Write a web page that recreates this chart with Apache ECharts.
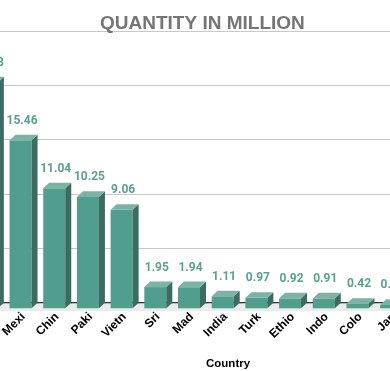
<!DOCTYPE html>
<html><head><meta charset="utf-8">
<script src="https://cdn.jsdelivr.net/npm/echarts@6/dist/echarts.min.js"></script>
<style>html,body{margin:0;padding:0;background:#fff;overflow:hidden;width:390px;height:371px;position:relative}#c{position:absolute;left:-30px;top:0;width:438px;height:371px}</style>
</head><body><div id="c"></div>
<script>
var categories = ['USA', 'Mexi', 'Chin', 'Paki', 'Vietn', 'Sri', 'Mad', 'India', 'Turk', 'Ethio', 'Indo', 'Colo', 'Jap'];
var values = [20.78, 15.46, 11.04, 10.25, 9.06, 1.95, 1.94, 1.11, 0.97, 0.92, 0.91, 0.42, 0.31];
var yTicks = [0, 5, 10, 15, 20, 25];

var FRONT = '#529e8e', SIDE = '#3b6b61', TOP = '#7bb3a7', LABEL = '#58a291';
var DX = 6, DY = 5.6, HALF = 11;

function renderBar(params, api) {
  var i = api.value(0), v = api.value(1);
  var pTop = api.coord([i, v]);
  var pBase = api.coord([i, 0]);
  var cx = pTop[0], yv = pTop[1], y0 = pBase[1];
  var band = api.size([1, 0])[0];
  var children = [];
  children.push({type: 'rect', shape: {x: cx - band / 2, y: y0, width: band + 1, height: 8.5},
    style: {fill: '#ebebeb'}, z2: 0});
  children.push({type: 'line', shape: {x1: cx - band / 2, y1: y0, x2: cx + band / 2 + 1, y2: y0},
    style: {stroke: '#333', lineWidth: 1.2}, z2: 1});
  children.push({type: 'rect', shape: {x: cx - HALF, y: yv + DY, width: 2 * HALF, height: y0 - yv},
    style: {fill: FRONT}, z2: 3});
  children.push({type: 'polygon', shape: {points: [[cx + HALF, yv + DY], [cx + HALF + DX, yv], [cx + HALF + DX, y0], [cx + HALF, y0 + DY]]},
    style: {fill: SIDE}, z2: 3});
  children.push({type: 'polygon', shape: {points: [[cx - HALF, yv + DY], [cx - HALF + DX, yv], [cx + HALF + DX, yv], [cx + HALF, yv + DY]]},
    style: {fill: TOP}, z2: 3});
  children.push({type: 'text', x: cx + 1.5, y: yv - 14, style: {text: v.toFixed(2), fill: LABEL,
    font: 'bold 12px Roboto', align: 'center', verticalAlign: 'middle'}, z2: 4});
  return {type: 'group', children: children};
}

var chart = echarts.init(document.getElementById('c'));
chart.setOption({
  animation: false,
  title: [
    {text: 'QUANTITY IN MILLION', left: 125, top: 9,
     textStyle: {fontFamily: 'Liberation Sans', fontWeight: 'bold', fontSize: 19, color: '#757575'}},
    {text: 'Country', left: 231, top: 353,
     textStyle: {fontFamily: 'Liberation Sans', fontWeight: 'bold', fontSize: 11.5, color: '#000'}}
  ],
  grid: {left: 0, right: 0, top: 31, bottom: 68.3, containLabel: false, outerBoundsMode: 'none'},
  xAxis: {type: 'category', data: categories, boundaryGap: true,
    axisLine: {show: false}, axisTick: {show: false},
    axisLabel: {rotate: 45, interval: 0, margin: 15, color: '#000', fontWeight: 'bold',
      fontFamily: 'Liberation Sans', fontSize: 12, padding: [0, -4, 0, 0]}},
  yAxis: {type: 'value', min: yTicks[0], max: yTicks[yTicks.length - 1], interval: yTicks[1] - yTicks[0],
    axisLabel: {show: false}, axisLine: {show: false}, axisTick: {show: false},
    splitLine: {lineStyle: {color: '#c8c8c8', width: 1}}},
  series: [{type: 'custom', renderItem: renderBar,
    data: values.map(function (v, i) { return [i, v]; }), encode: {x: 0, y: 1}, clip: false}]
});
</script></body></html>
